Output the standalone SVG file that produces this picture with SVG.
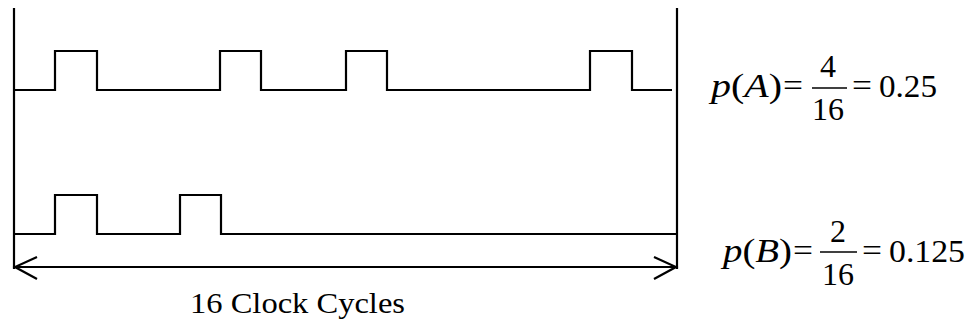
<svg xmlns="http://www.w3.org/2000/svg" width="971" height="324" viewBox="0 0 971 324">
<style>
.ln{fill:none;stroke:#000;stroke-width:2.2;stroke-linejoin:miter}
.t{font-family:"Liberation Serif","Times New Roman",serif;fill:#000;font-size:32px}
.i{font-style:italic}
.bar{stroke:#000;stroke-width:1.6}
</style>
<rect width="971" height="324" fill="#fff"/>
<g id="frame">
<line class="ln" x1="14" y1="8" x2="14" y2="269"/>
<line class="ln" x1="677" y1="8" x2="677" y2="269"/>
</g>
<g id="signalA">
<path class="ln" d="M14 90 H55 V51 H97 V90 H220 V51 H261 V90 H346 V51 H387 V90 H590 V51 H632 V90 H672"/>
</g>
<g id="signalB">
<path class="ln" d="M14 234 H55 V195 H97 V234 H180 V195 H221 V234 H677"/>
</g>
<g id="connectors">
<line class="ln" x1="15" y1="267" x2="676" y2="267"/>
<path class="ln" d="M37 257 L15 267 L37 279"/>
<path class="ln" d="M654 257 L676 267 L654 279"/>
</g>
<g id="label">
<text class="t" x="190" y="313" style="font-size:30px" textLength="215" lengthAdjust="spacingAndGlyphs">16 Clock Cycles</text>
</g>
<g id="formulaA">
<text class="t" x="711" y="97" style="font-size:33px" textLength="71" lengthAdjust="spacingAndGlyphs"><tspan class="i">p</tspan>(<tspan class="i">A</tspan>)</text>
<text class="t" x="783" y="96" textLength="20" lengthAdjust="spacingAndGlyphs">=</text>
<text class="t" x="828" y="77" text-anchor="middle">4</text>
<line class="bar" x1="812" y1="88" x2="847" y2="88"/>
<text class="t" x="828" y="120" text-anchor="middle">16</text>
<text class="t" x="852" y="96" textLength="20" lengthAdjust="spacingAndGlyphs">=</text>
<text class="t" x="879" y="97" textLength="58" lengthAdjust="spacingAndGlyphs">0.25</text>
</g>
<g id="formulaB">
<text class="t" x="723" y="262" style="font-size:33px" textLength="69" lengthAdjust="spacingAndGlyphs"><tspan class="i">p</tspan>(<tspan class="i">B</tspan>)</text>
<text class="t" x="793" y="261" textLength="20" lengthAdjust="spacingAndGlyphs">=</text>
<text class="t" x="838" y="242" text-anchor="middle">2</text>
<line class="bar" x1="820" y1="252" x2="857" y2="252"/>
<text class="t" x="838" y="285" text-anchor="middle">16</text>
<text class="t" x="862" y="261" textLength="20" lengthAdjust="spacingAndGlyphs">=</text>
<text class="t" x="889" y="262" textLength="76" lengthAdjust="spacingAndGlyphs">0.125</text>
</g>
</svg>
